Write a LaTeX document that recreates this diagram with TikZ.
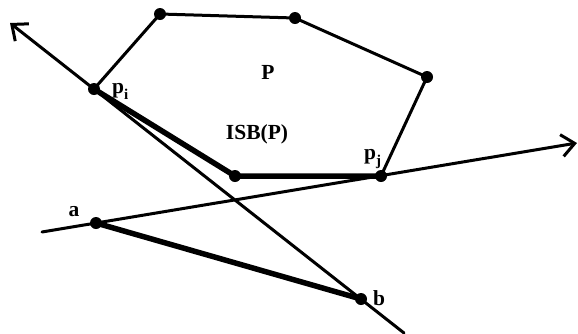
\documentclass[tikz,border=0pt]{standalone}
\usepackage{fontspec}
\setmainfont{Liberation Serif}
\usetikzlibrary{arrows.meta}
\begin{document}
\begin{tikzpicture}[x=1pt,y=-1pt,
  thinline/.style={line width=3pt,line cap=round},
  thickline/.style={line width=5.5pt,line cap=round,line join=round},
  barb/.style={-{Straight Barb[length=13pt,width=22pt,line width=3pt]}},
  dot/.style={circle,fill=black,inner sep=0pt,minimum size=12pt},
  lbl/.style={font=\bfseries\fontsize{21.5}{24}\selectfont,inner sep=0pt}]
\useasboundingbox (0,0) rectangle (578,333);
% polygon vertices
\node[dot] (v1) at (160,14) {};
\node[dot] (v2) at (295,18) {};
\node[dot] (v3) at (427,77) {};
\node[dot] (pj) at (381,176) {};
\node[dot] (v5) at (235,176) {};
\node[dot] (pi) at (94,89) {};
\node[dot] (a) at (96,223) {};
\node[dot] (b) at (361,299) {};
\coordinate (l1s) at (404,333);
\coordinate (l1e) at (10,23);
\coordinate (l2s) at (42,232);
\coordinate (l2e) at (577,143);
% polygon
\draw[thinline] (pi.center) -- (v1.center) -- (v2.center) -- (v3.center) -- (pj.center);
\draw[thickline] (pi.center) -- (v5.center) -- (pj.center);
% lines
\draw[thinline,barb] (l1s) -- (l1e);
\draw[thinline,barb] (l2s) -- (l2e);
\draw[thickline] (a.center) -- (b.center);
% labels
\node[lbl] (tP) at (268,72) {P};
\node[lbl] (tISB) at (257,134) {ISB(P)};
\node[lbl,anchor=base west] (tpi) at (112,93) {p\raisebox{-0.3em}{\fontsize{15}{16}\selectfont i}};
\node[lbl,anchor=base west] (tpj) at (364,159) {p\raisebox{-0.3em}{\fontsize{15}{16}\selectfont j}};
\node[lbl] (ta) at (74,212) {a};
\node[lbl] (tb) at (379,298) {b};
\end{tikzpicture}
\end{document}
